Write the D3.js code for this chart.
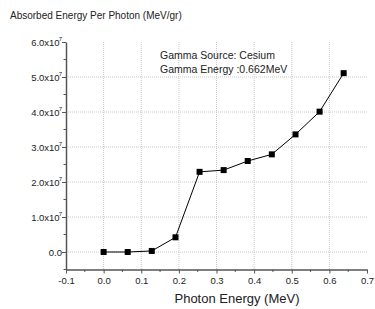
<!DOCTYPE html>
<html lang="en">
<head>
<meta charset="UTF-8">
<title>Absorbed Energy Per Photon</title>
<script src="https://d3js.org/d3.v7.min.js"></script>
<style>
    body { margin: 0; background: #fff; }
    svg text { fill: #222; font-family: 'Liberation Sans', Arial, sans-serif; }
</style>
</head>
<body>
<div id="chart"></div>
<script>
    // photon energy (MeV) and absorbed energy per photon (x10^7 MeV/gr)
    const energies = [0, 0.064, 0.128, 0.191, 0.255, 0.319, 0.383, 0.447, 0.51, 0.574, 0.638];
    const absorbed = [0, 0, 0.03, 0.42, 2.29, 2.34, 2.6, 2.79, 3.36, 4.01, 5.11];
    const xTicks = [-0.1, 0.0, 0.1, 0.2, 0.3, 0.4, 0.5, 0.6, 0.7];
    const yTicks = [0, 1, 2, 3, 4, 5, 6];
    const notes = ["Gamma Source: Cesium", "Gamma Energy :0.662MeV"];

    const width = 375, height = 309;
    const svg = d3.select("#chart").append("svg")
        .attr("width", width)
        .attr("height", height);

    const x = d3.scaleLinear().domain([-0.1, 0.7]).range([66, 367]);
    const y = d3.scaleLinear().domain([-0.5, 6]).range([269.5, 42]);

    // grid
    svg.append("g").selectAll("line")
        .data(xTicks.filter(d => d > -0.1 && d < 0.7))
        .join("line")
        .attr("x1", d => x(d)).attr("x2", d => x(d))
        .attr("y1", y(6)).attr("y2", y(-0.5))
        .attr("stroke", "#c8c8c8").attr("stroke-dasharray", "1,1");
    svg.append("g").selectAll("line")
        .data(yTicks.filter(d => d < 6))
        .join("line")
        .attr("x1", x(-0.1)).attr("x2", x(0.7))
        .attr("y1", d => y(d)).attr("y2", d => y(d))
        .attr("stroke", "#c8c8c8").attr("stroke-dasharray", "1,1");

    // x axis
    const xAxis = svg.append("g")
        .attr("transform", `translate(0,${y(-0.5)})`)
        .call(d3.axisBottom(x).tickValues(xTicks).tickSize(4).tickSizeOuter(0).tickPadding(4)
            .tickFormat(d => d.toFixed(1)));
    xAxis.append("g").selectAll("line")
        .data(xTicks.slice(0, -1).map(d => d + 0.05))
        .join("line")
        .attr("x1", d => x(d)).attr("x2", d => x(d))
        .attr("y1", 0).attr("y2", 2.5)
        .attr("stroke", "#555");

    // y axis
    const yAxis = svg.append("g")
        .attr("transform", `translate(${x(-0.1)},0)`)
        .call(d3.axisLeft(y).tickValues(yTicks).tickSize(4).tickSizeOuter(0).tickPadding(3)
            .tickFormat(() => ""));
    yAxis.append("g").selectAll("line")
        .data([-0.5, 0.5, 1.5, 2.5, 3.5, 4.5, 5.5])
        .join("line")
        .attr("x1", 0).attr("x2", -2.5)
        .attr("y1", d => y(d)).attr("y2", d => y(d))
        .attr("stroke", "#555");

    [xAxis, yAxis].forEach(g => {
        g.attr("font-family", null);
        g.select(".domain").attr("stroke", "#555").attr("stroke-width", 1.5);
        g.selectAll(".tick line").attr("stroke", "#555");
        g.selectAll("text").attr("font-size", 9.5).attr("fill", "#222");
    });

    // y tick labels with exponent
    yAxis.selectAll(".tick text").each(function (d) {
        const t = d3.select(this).attr("x", -4);
        if (d === 0) {
            t.text("0.0");
        } else {
            t.append("tspan").text(d.toFixed(1) + "x10");
            t.append("tspan").text("7").attr("font-size", 6).attr("dx", -1).attr("dy", -5);
        }
    });

    // line and markers
    const pts = energies.map((e, i) => [e, absorbed[i]]);
    svg.append("path")
        .datum(pts)
        .attr("fill", "none")
        .attr("stroke", "#000")
        .attr("stroke-width", 1)
        .attr("d", d3.line().x(d => x(d[0])).y(d => y(d[1])));
    svg.append("g").selectAll("rect")
        .data(pts)
        .join("rect")
        .attr("x", d => x(d[0]) - 3).attr("y", d => y(d[1]) - 3)
        .attr("width", 6).attr("height", 6)
        .attr("fill", "#000");

    // titles
    svg.append("text")
        .attr("x", 10).attr("y", 19)
        .attr("font-size", 10)
        .text("Absorbed Energy Per Photon (MeV/gr)");
    svg.append("text")
        .attr("x", 237).attr("y", 303)
        .attr("text-anchor", "middle")
        .attr("font-size", 13)
        .text("Photon Energy (MeV)");

    svg.append("g").selectAll("text")
        .data(notes)
        .join("text")
        .attr("x", 160).attr("y", (d, i) => 59 + i * 14)
        .attr("font-size", 10.5)
        .text(d => d);
</script>
</body>
</html>
